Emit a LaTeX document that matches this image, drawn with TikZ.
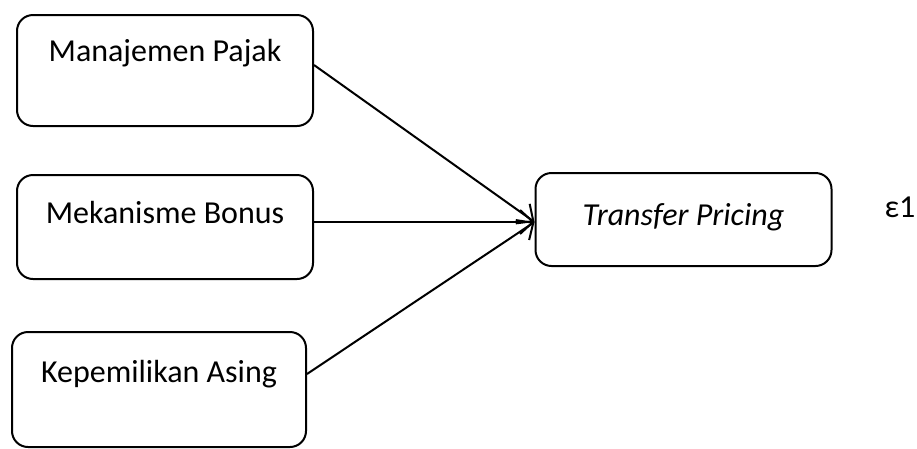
\documentclass[tikz,border=0pt]{standalone}
\usepackage{fontspec}
\setmainfont{Carlito}
\usetikzlibrary{arrows.meta}
\begin{document}
\begin{tikzpicture}[x=1pt,y=-1pt,
  box/.style={draw=black,line width=2pt,rounded corners=16pt,inner sep=0pt},
  lbl/.style={inner sep=0pt,font=\fontsize{32}{36}\selectfont},
  conn/.style={draw=black,line width=2pt,-{Straight Barb[length=13pt,width=24pt,line width=2pt]}}]
\useasboundingbox (0,0) rectangle (917,448);
\node[box,minimum width=296pt,minimum height=111pt] (b1) at (165,70.5) {};
\node[box,minimum width=296pt,minimum height=104pt] (b2) at (165,227) {};
\node[box,minimum width=294pt,minimum height=115pt] (b3) at (159,389.5) {};
\node[box,minimum width=296pt,minimum height=93pt] (tp) at (683.5,219.5) {};
\node[lbl] (t1) at (165,53) {Manajemen Pajak};
\node[lbl] (t2) at (165,213) {Mekanisme Bonus};
\node[lbl] (t3) at (159,374) {Kepemilikan Asing};
\node[lbl] (t4) at (683.5,217) {\itshape Transfer Pricing};
\node[lbl] (eps) at (900,207) {ε1};
\draw[conn] ([yshift=5.5pt]b1.east) -- ([yshift=-2.5pt]tp.west);
\draw[conn] ([yshift=5pt]b2.east) -- ([yshift=-2.5pt]tp.west);
\draw[conn] ([yshift=15.5pt]b3.east) -- ([yshift=-2.5pt]tp.west);
\end{tikzpicture}
\end{document}
